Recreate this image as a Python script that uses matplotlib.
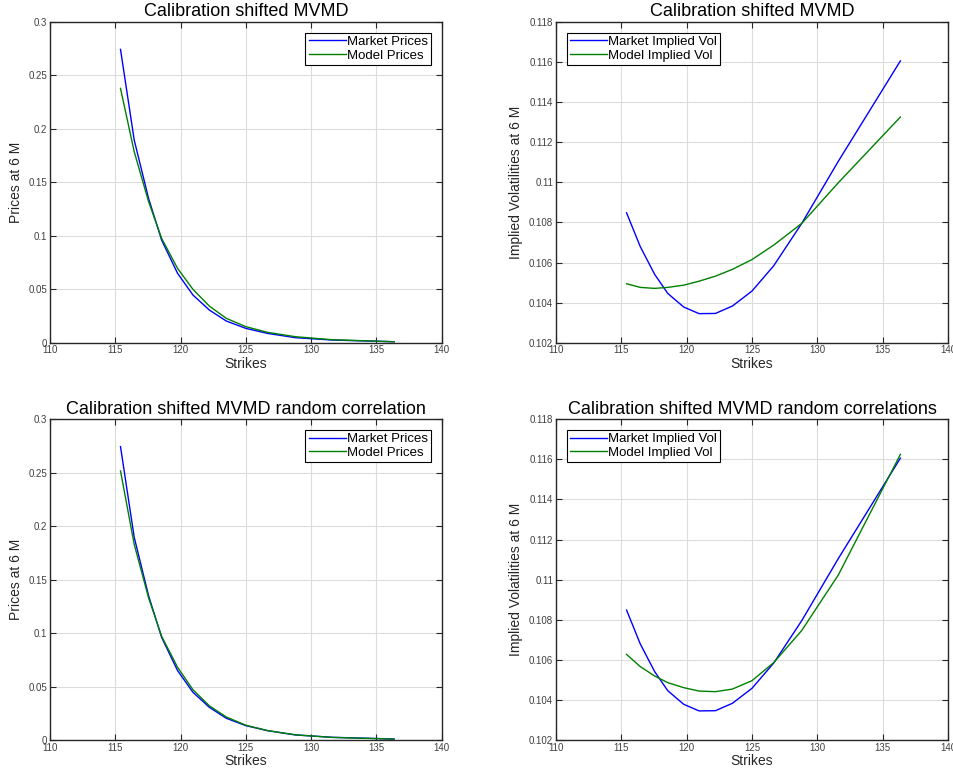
"""
Calibration of shifted MVMD: prices and implied vols at 6M.
"""

import matplotlib
matplotlib.use("Agg")
import matplotlib.pyplot as plt
from matplotlib.ticker import FixedLocator, FuncFormatter

plt.rcParams["font.family"] = ["Liberation Sans", "DejaVu Sans"]

strikes = [115.4, 116.45, 117.55, 118.55, 119.77, 120.95, 122.2,
           123.5, 125.0, 126.66, 128.8, 131.6, 136.35]

market_prices = [0.2744, 0.1896, 0.135, 0.096, 0.0649, 0.0446, 0.0306,
                 0.0203, 0.0134, 0.0087, 0.0047, 0.0025, 0.0009]
model_prices = [0.2379, 0.1787, 0.132, 0.0976, 0.0695, 0.0499, 0.0343,
                0.0228, 0.015, 0.0097, 0.0056, 0.0028, 0.0009]
model_prices_rc = [0.2517, 0.183, 0.133, 0.097, 0.068, 0.047, 0.032,
                   0.0215, 0.0138, 0.0088, 0.0048, 0.0024, 0.0008]

market_vol = [0.10848, 0.10679, 0.10541, 0.10446, 0.10378, 0.10345, 0.10346,
              0.10383, 0.10458, 0.10584, 0.10795, 0.11105, 0.11606]
model_vol = [0.10494, 0.10476, 0.10471, 0.10476, 0.10487, 0.10507, 0.10532,
             0.10566, 0.10615, 0.10687, 0.10795, 0.10998, 0.11326]
model_vol_rc = [0.10627, 0.10566, 0.10519, 0.10486, 0.10461, 0.10444, 0.10441,
                0.10454, 0.10496, 0.10586, 0.10746, 0.11023, 0.11625]

x_ticks = [110, 115, 120, 125, 130, 135, 140]
price_ticks = [0, 0.05, 0.1, 0.15, 0.2, 0.25, 0.3]
vol_ticks = [0.102, 0.104, 0.106, 0.108, 0.11, 0.112, 0.114, 0.116, 0.118]

BLUE = "#0000ff"
GREEN = "#008000"
FRAME = "#262626"


def style_axes(ax, yticks, title, ylabel):
    ax.set_xlim(110, 140)
    ax.set_ylim(yticks[0], yticks[-1])
    ax.xaxis.set_major_locator(FixedLocator(x_ticks))
    ax.yaxis.set_major_locator(FixedLocator(yticks))
    ax.xaxis.set_major_formatter(FuncFormatter(lambda v, p: "%g" % v))
    ax.yaxis.set_major_formatter(FuncFormatter(lambda v, p: "%g" % round(v, 4)))
    ax.tick_params(direction="in", top=True, right=True, length=4,
                   width=0.8, color=FRAME, labelsize=7, labelcolor="#404040",
                   pad=2)
    ax.grid(True, color="#dcdcdc", linewidth=0.8)
    ax.set_axisbelow(True)
    for s in ax.spines.values():
        s.set_color(FRAME)
        s.set_linewidth(1.0)
    ax.set_title(title, fontsize=13, pad=4)
    ax.set_xlabel("Strikes", fontsize=10, color="#262626", labelpad=1)
    ax.set_ylabel(ylabel, fontsize=10, color="#262626", labelpad=4)


fig = plt.figure(figsize=(9.54, 7.75), dpi=100)

ax1 = fig.add_axes([0.0524, 0.5578, 0.4106, 0.4138])
ax2 = fig.add_axes([0.5828, 0.5578, 0.4110, 0.4138])
ax3 = fig.add_axes([0.0524, 0.0452, 0.4106, 0.4138])
ax4 = fig.add_axes([0.5828, 0.0452, 0.4110, 0.4138])

ax1.plot(strikes, market_prices, color=BLUE, lw=1, label="Market Prices")
ax1.plot(strikes, model_prices, color=GREEN, lw=1, label="Model Prices")
style_axes(ax1, price_ticks, "Calibration shifted MVMD", "Prices at 6 M")

ax2.plot(strikes, market_vol, color=BLUE, lw=1, label="Market Implied Vol")
ax2.plot(strikes, model_vol, color=GREEN, lw=1, label="Model Implied Vol")
style_axes(ax2, vol_ticks, "Calibration shifted MVMD",
           "Implied Volatilities at 6 M")

ax3.plot(strikes, market_prices, color=BLUE, lw=1, label="Market Prices")
ax3.plot(strikes, model_prices_rc, color=GREEN, lw=1, label="Model Prices")
style_axes(ax3, price_ticks, "Calibration shifted MVMD random correlation",
           "Prices at 6 M")

ax4.plot(strikes, market_vol, color=BLUE, lw=1, label="Market Implied Vol")
ax4.plot(strikes, model_vol_rc, color=GREEN, lw=1, label="Model Implied Vol")
style_axes(ax4, vol_ticks, "Calibration shifted MVMD random correlations",
           "Implied Volatilities at 6 M")

for ax, loc in [(ax1, "upper right"), (ax2, "upper left"),
                (ax3, "upper right"), (ax4, "upper left")]:
    leg = ax.legend(loc=loc, fontsize=9.5, frameon=True, fancybox=False,
                    framealpha=1, edgecolor="black", borderpad=0.25,
                    handlelength=2.8, handletextpad=0.1, labelspacing=0.1,
                    borderaxespad=0.8)
    leg.get_frame().set_linewidth(0.8)

fig.savefig("out.png", dpi=100)
